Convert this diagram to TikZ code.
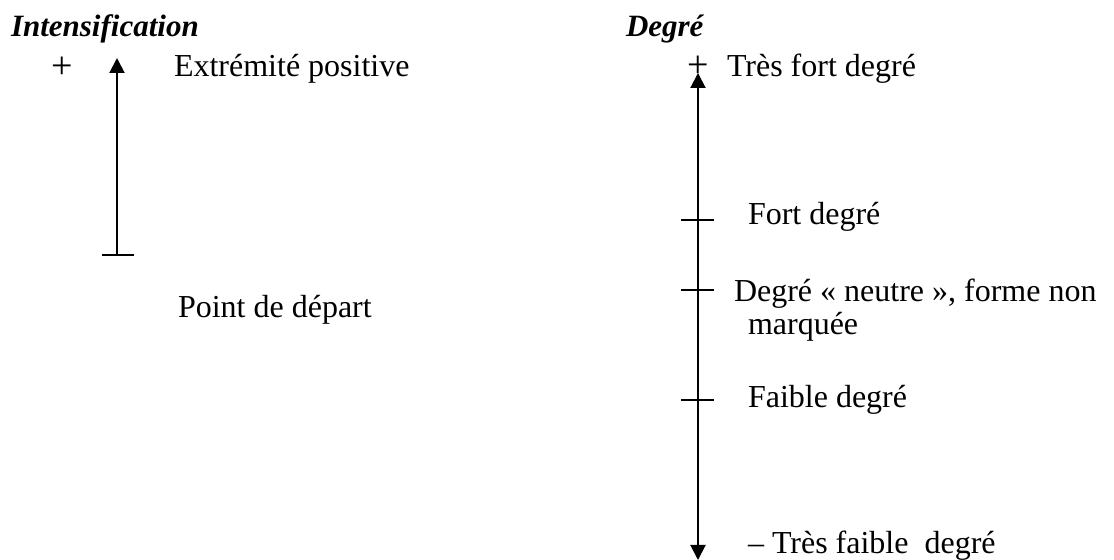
\documentclass[tikz,border=0pt]{standalone}
\usepackage{fontspec}
\setmainfont{Liberation Serif}
\usepackage{tikz}
\usetikzlibrary{arrows.meta,positioning,calc}

\begin{document}
\begin{tikzpicture}[x=0.5pt, y=-0.5pt, >={Triangle[length=7.5pt,width=7.5pt]}, line width=1pt]
	\tikzstyle{every node}=[inner sep=0pt, anchor=base west, font=\fontsize{16}{16.5}\selectfont]
	\tikzstyle{heading}=[font=\fontsize{15.5}{16.5}\selectfont\bfseries\itshape]
	\tikzstyle{sign}=[anchor=center, font=\fontsize{19}{20}\selectfont]
	\tikzstyle{graduation}=[-, line width=0.8pt]
	\useasboundingbox (0,0) rectangle (1114,560);
	% left scale
	\node[heading]  (int)   at (10,37)   {Intensification};
	\node[sign]     (plusA) at (62,68)   {+};
	\node           (ext)   at (173,77)  {Extrémité positive};
	\node           (dep)   at (177,318) {Point de départ};
	\coordinate (startA) at (117,255);
	\coordinate (endA)   at (117,58);
	\draw[->] (startA) -- (endA);
	\draw[graduation] ([xshift=-7.5pt]startA) -- ([xshift=8.5pt]startA);
	% right scale
	\node[heading]  (deg)   at (625,37)  {Degré};
	\node[sign]     (plusB) at (698,67)  {+};
	\node           (tf)    at (726,77)  {Très fort degré};
	\node           (fd)    at (747,225) {Fort degré};
	\node[align=left] (neu) at (733,335) {Degré «~neutre~», forme non\\\hspace*{7pt}marquée};
	\node           (fa)    at (747,408) {Faible degré};
	\node           (tfa)   at (747,554) {– Très faible\ \ degré};
	\coordinate (topB) at (698,73);
	\coordinate (botB) at (698,560);
	\draw[<->] (botB) -- (topB);
	\foreach \y in {220,290,400}
		\draw[graduation] (681,\y) -- (714,\y);
\end{tikzpicture}
\end{document}
